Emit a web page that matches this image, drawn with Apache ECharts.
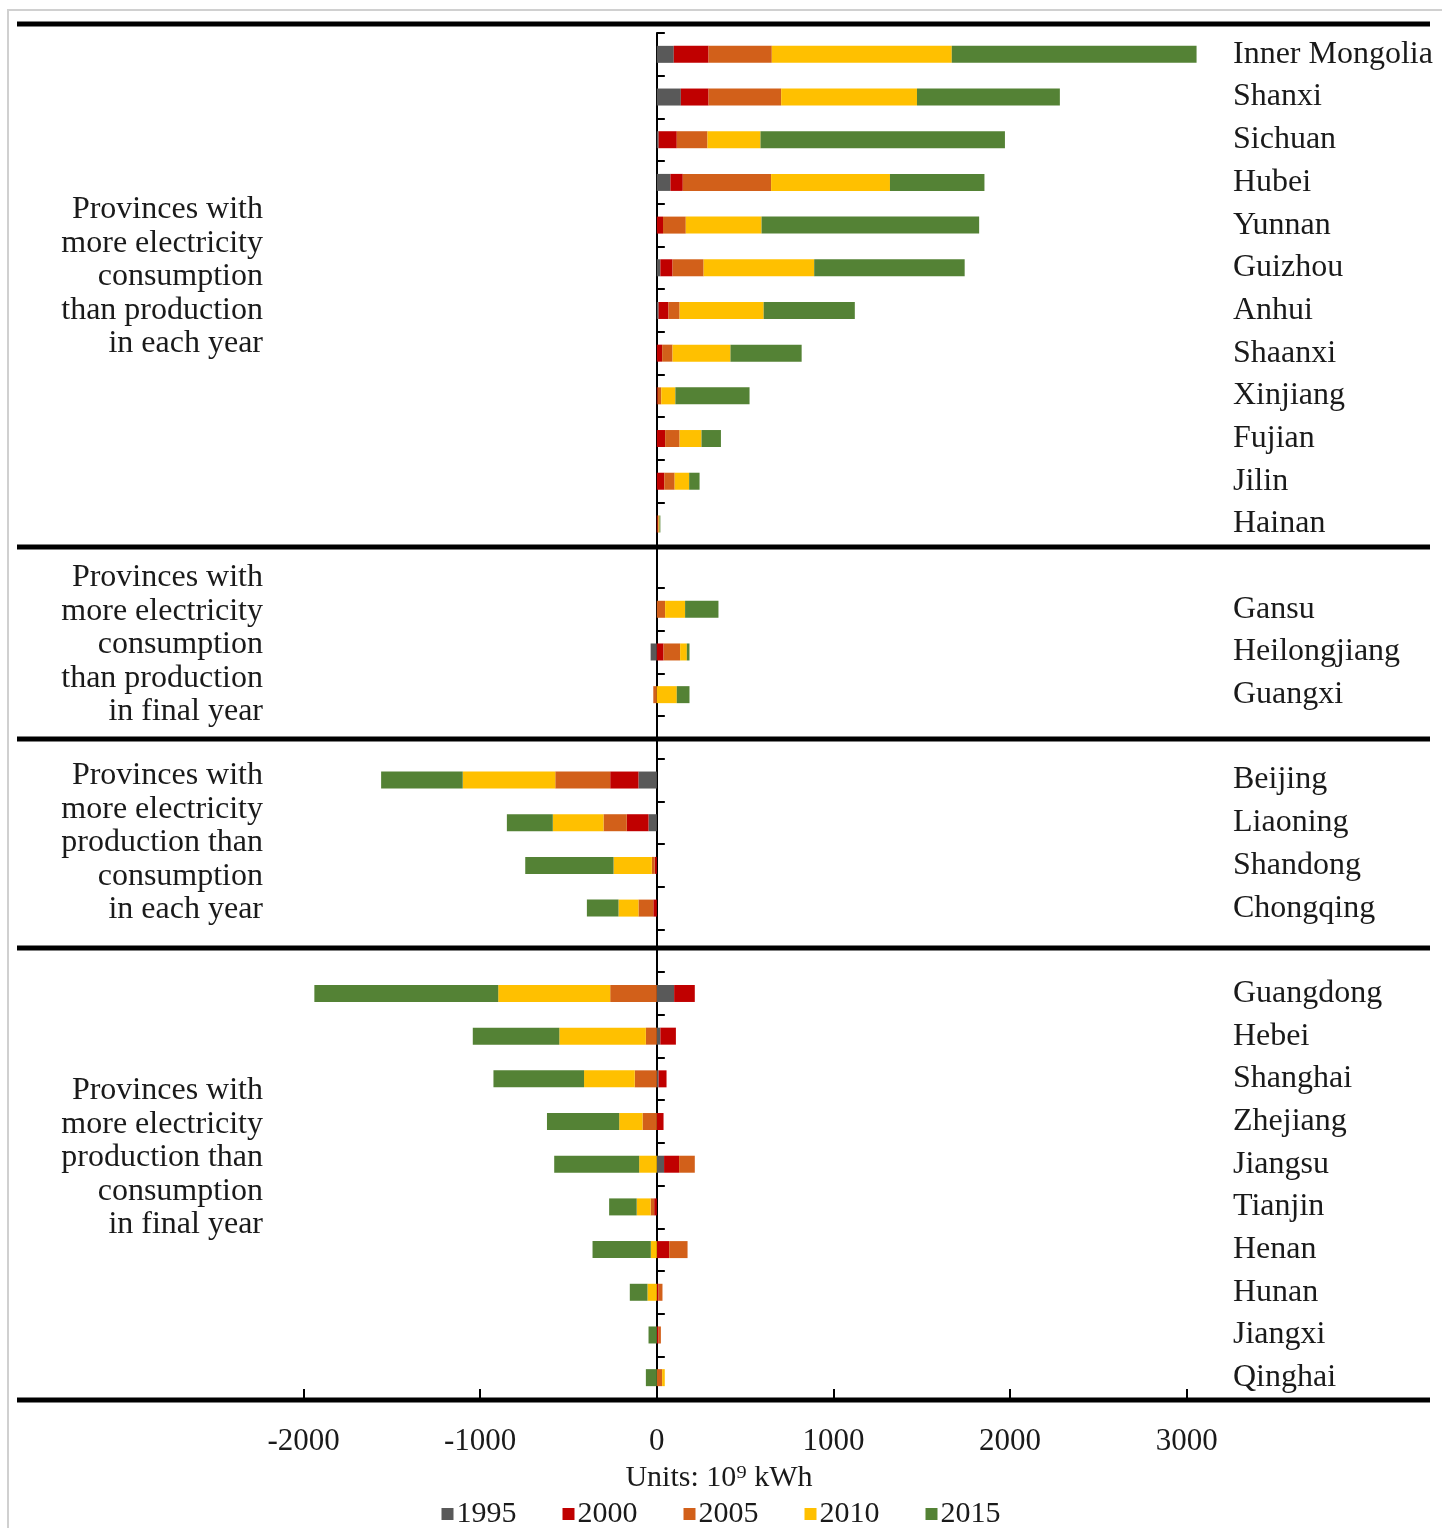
<!DOCTYPE html>
<html>
<head>
<meta charset="utf-8">
<script src="https://cdn.jsdelivr.net/npm/echarts@6/dist/echarts.min.js"></script>
<style>
  html, body { margin: 0; padding: 0; background: #fff; }
  #main { width: 1442px; height: 1528px; }
</style>
</head>
<body>
<div id="main"></div>
<script>
// provinces, top to bottom, in four groups
const provinces = [
  'Inner Mongolia', 'Shanxi', 'Sichuan', 'Hubei', 'Yunnan', 'Guizhou',
  'Anhui', 'Shaanxi', 'Xinjiang', 'Fujian', 'Jilin', 'Hainan',
  'Gansu', 'Heilongjiang', 'Guangxi',
  'Beijing', 'Liaoning', 'Shandong', 'Chongqing',
  'Guangdong', 'Hebei', 'Shanghai', 'Zhejiang', 'Jiangsu', 'Tianjin',
  'Henan', 'Hunan', 'Jiangxi', 'Qinghai'
];
const groupSizes = [12, 3, 4, 10];
const groupLabels = [
  'Provinces with\nmore electricity\nconsumption\nthan production\nin each year',
  'Provinces with\nmore electricity\nconsumption\nthan production\nin final year',
  'Provinces with\nmore electricity\nproduction than\nconsumption\nin each year',
  'Provinces with\nmore electricity\nproduction than\nconsumption\nin final year'
];

const years = ['1995', '2000', '2005', '2010', '2015'];
const v1995 = [96, 136, 10, 77, 0, 20, 10, 0, 0, 0, 0, 0,
  0, -35, 0,
  -104, -47, 0, 0,
  98, 20, 10, 0, 41, 0, 0, 0, 0, 0];
const v2000 = [197, 157, 103, 70, 35, 69, 56, 30, 5, 47, 42, 5,
  0, 38, 0,
  -160, -123, -12, -20,
  117, 88, 45, 38, 85, -15, 70, 10, 10, 0];
const v2005 = [358, 411, 174, 500, 129, 176, 63, 59, 20, 82, 59, 5,
  47, 94, -20,
  -311, -132, -16, -84,
  -264, -62, -125, -81, 89, -20, 104, 22, 13, 30];
const v2010 = [1019, 769, 300, 673, 429, 626, 476, 328, 80, 124, 82, 5,
  113, 38, 113,
  -524, -287, -217, -113,
  -634, -490, -287, -132, -100, -79, -34, -53, 0, 15];
const v2015 = [1386, 809, 1384, 535, 1232, 852, 516, 403, 420, 110, 59, 5,
  189, 15, 72,
  -462, -260, -500, -179,
  -1041, -490, -513, -409, -481, -156, -330, -100, -47, -62];
const colors = ['#595959', '#C00000', '#D2601A', '#FFC000', '#548235'];
const xTicks = [-2000, -1000, 0, 1000, 2000, 3000];

// categories with an empty slot after each group but the last
let categories = [];
let slotOf = [];
let k = 0;
groupSizes.forEach(function (n, g) {
  for (let i = 0; i < n; i++) {
    slotOf.push(categories.length);
    categories.push(provinces[k++]);
  }
  if (g < groupSizes.length - 1) categories.push(' '.repeat(g + 1));
});

function toSlots(arr) {
  let out = categories.map(function () { return null; });
  arr.forEach(function (v, i) { out[slotOf[i]] = v; });
  return out;
}

const allValues = [v1995, v2000, v2005, v2010, v2015];
const font = 'Liberation Serif';

let chartDom = document.getElementById('main');
let myChart = echarts.init(chartDom);

let series = years.map(function (y, i) {
  return {
    name: y,
    type: 'bar',
    stack: 'total',
    barWidth: 17,
    itemStyle: { color: colors[i] },
    data: toSlots(allValues[i])
  };
});

const sepY = [24, 547, 739, 948, 1400];
const groupY = [277, 645, 843, 1158];

let graphic = [
  {
    type: 'rect', silent: true,
    shape: { x: 8, y: 10, width: 1440, height: 1530 },
    style: { fill: 'none', stroke: '#d0d0d0', lineWidth: 2 }
  }
];
sepY.forEach(function (y) {
  graphic.push({
    type: 'line', silent: true, z: 10,
    shape: { x1: 17, y1: y, x2: 1430, y2: y },
    style: { stroke: '#000', lineWidth: 5 }
  });
});
groupLabels.forEach(function (t, i) {
  graphic.push({
    type: 'text', silent: true,
    x: 263, y: groupY[i],
    style: {
      text: t, font: '32px "' + font + '"', fill: '#1a1a1a',
      align: 'right', verticalAlign: 'middle', lineHeight: 33.5
    }
  });
});
graphic.push({
  type: 'text', silent: true,
  x: 719, y: 1478,
  style: {
    text: 'Units: 10\u2079 kWh', font: '30px "' + font + '"', fill: '#1a1a1a',
    align: 'center', verticalAlign: 'middle'
  }
});

let option = {
  backgroundColor: '#fff',
  animation: false,
  color: colors,
  grid: { left: 21, width: 1201, top: 33, height: 1366 },
  legend: {
    data: years,
    left: 'center',
    top: 1494,
    icon: 'rect',
    itemWidth: 12,
    itemHeight: 12,
    itemGap: 46,
    textStyle: { fontFamily: font, fontSize: 30, color: '#1a1a1a', padding: [0, 0, 0, -2] }
  },
  xAxis: {
    type: 'value',
    min: -3600,
    max: 3200,
    splitLine: { show: false },
    axisLine: { show: false },
    axisTick: {
      show: true, inside: true, length: 10,
      customValues: xTicks,
      lineStyle: { color: '#000', width: 2 }
    },
    axisLabel: {
      customValues: xTicks,
      formatter: function (v) { return String(v); },
      fontFamily: font, fontSize: 31, color: '#1a1a1a', margin: 27
    }
  },
  yAxis: [
    {
      type: 'category',
      inverse: true,
      data: categories,
      axisLine: { show: true, onZero: true, lineStyle: { color: '#000', width: 2 } },
      axisTick: { show: true, inside: true, length: 8, lineStyle: { color: '#000', width: 2 } },
      axisLabel: { show: false }
    },
    {
      type: 'category',
      inverse: true,
      position: 'right',
      data: categories,
      axisLine: { show: false, onZero: false },
      axisTick: { show: false },
      axisLabel: { fontFamily: font, fontSize: 32, color: '#1a1a1a', margin: 11 }
    }
  ],
  series: series,
  graphic: graphic
};

option && myChart.setOption(option);
</script>
</body>
</html>
